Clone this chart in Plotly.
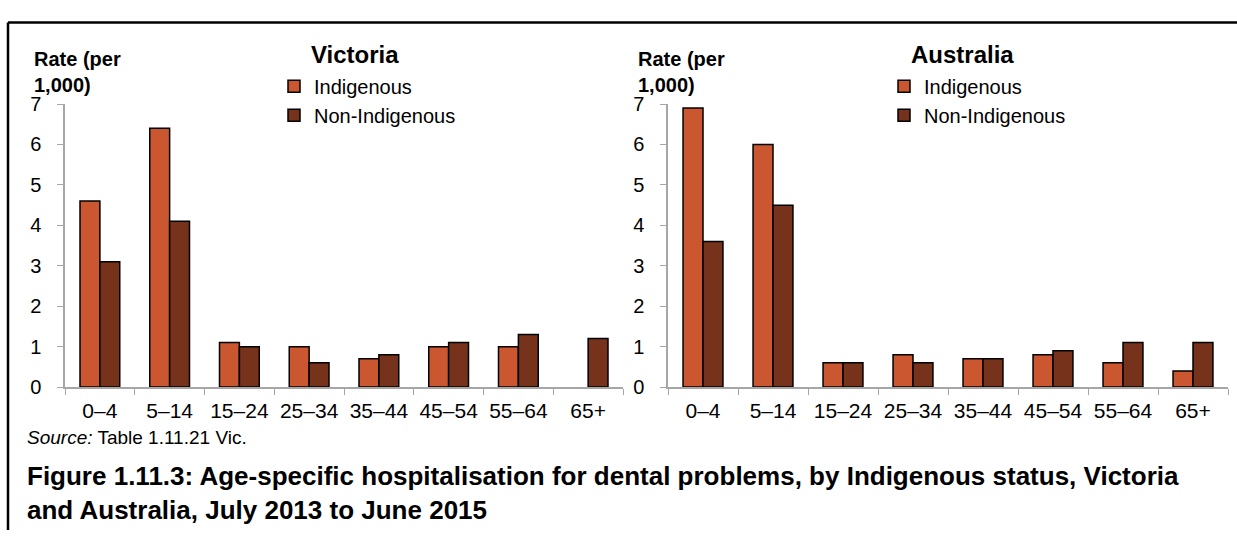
import plotly.graph_objects as go

W, H = 1237, 541

ages = ["0–4", "5–14", "15–24", "25–34", "35–44", "45–54", "55–64", "65+"]

vic_indig = [4.6, 6.4, 1.1, 1.0, 0.7, 1.0, 1.0, None]
vic_non = [3.1, 4.1, 1.0, 0.6, 0.8, 1.1, 1.3, 1.2]
aus_indig = [6.9, 6.0, 0.6, 0.8, 0.7, 0.8, 0.6, 0.4]
aus_non = [3.6, 4.5, 0.6, 0.6, 0.7, 0.9, 1.1, 1.1]

y_ticks = [0, 1, 2, 3, 4, 5, 6, 7]

c_indig = "#CA5730"
c_non = "#76321B"
font = "Liberation Sans, Arial, sans-serif"


# pixel -> paper fraction
def px_x(v):
    return v / W


def px_y(v):
    return 1 - v / H


fig = go.Figure()

# Victoria
fig.add_trace(go.Bar(x=ages, y=vic_indig, name="Indigenous", marker_color=c_indig,
                     marker_line=dict(color="black", width=1.5),
                     xaxis="x", yaxis="y", legend="legend"))
fig.add_trace(go.Bar(x=ages, y=vic_non, name="Non-Indigenous", marker_color=c_non,
                     marker_line=dict(color="black", width=1.5),
                     xaxis="x", yaxis="y", legend="legend"))
# Australia
fig.add_trace(go.Bar(x=ages, y=aus_indig, name="Indigenous", marker_color=c_indig,
                     marker_line=dict(color="black", width=1.5),
                     xaxis="x2", yaxis="y2", legend="legend2"))
fig.add_trace(go.Bar(x=ages, y=aus_non, name="Non-Indigenous", marker_color=c_non,
                     marker_line=dict(color="black", width=1.5),
                     xaxis="x2", yaxis="y2", legend="legend2"))

xax = dict(type="category", showline=True, linecolor="#A6A6A6", linewidth=1.5,
           ticks="outside", tickson="boundaries", ticklen=6, tickcolor="#A6A6A6",
           tickfont=dict(size=21, color="black", family=font), showgrid=False,
           ticklabelstandoff=4, fixedrange=True)
yax = dict(range=[0, 7], tickvals=y_ticks, showline=True, linecolor="#A6A6A6",
           linewidth=1.5, ticks="outside", ticklen=6, tickcolor="#A6A6A6",
           tickfont=dict(size=20, color="black", family=font), showgrid=False,
           zeroline=False, ticklabelstandoff=12, fixedrange=True)

y_dom = [px_y(392), px_y(97)]

fig.update_layout(
    width=W, height=H,
    margin=dict(l=0, r=0, t=0, b=0),
    paper_bgcolor="white", plot_bgcolor="white",
    font=dict(family=font, color="black"),
    barmode="group", bargap=0.43, bargroupgap=0,
    xaxis=dict(xax, domain=[px_x(65), px_x(623)], anchor="y"),
    yaxis=dict(yax, domain=y_dom, anchor="x"),
    xaxis2=dict(xax, domain=[px_x(668), px_x(1228)], anchor="y2"),
    yaxis2=dict(yax, domain=y_dom, anchor="x2"),
    legend=dict(x=px_x(274), y=px_y(58), xanchor="left", yanchor="top",
                font=dict(size=20, family=font), bgcolor="rgba(0,0,0,0)"),
    legend2=dict(x=px_x(884), y=px_y(58), xanchor="left", yanchor="top",
                 font=dict(size=20, family=font), bgcolor="rgba(0,0,0,0)"),
)

# outer frame: only left and top edges show, the rest is cut off in the source
fig.add_shape(type="line", xref="paper", yref="paper",
              x0=px_x(8), x1=px_x(8), y0=0, y1=px_y(12),
              line=dict(color="black", width=2.5), layer="above")
fig.add_shape(type="line", xref="paper", yref="paper",
              x0=px_x(8), x1=1, y0=px_y(12), y1=px_y(12),
              line=dict(color="black", width=2.5), layer="above")

ann = []
# chart titles
ann.append(dict(text="<b>Victoria</b>", x=px_x(355), y=px_y(45), font=dict(size=24)))
ann.append(dict(text="<b>Australia</b>", x=px_x(962), y=px_y(45), font=dict(size=24)))
# y axis titles
for xl in (32, 636):
    ann.append(dict(text="<b>Rate (per<br>1,000)</b>", x=px_x(xl), y=px_y(36),
                    xanchor="left", yanchor="top", align="left", font=dict(size=20)))
# source and caption
ann.append(dict(text="<i>Source:</i> Table 1.11.21 Vic.", x=px_x(25), y=px_y(445),
                xanchor="left", font=dict(size=19)))
ann.append(dict(text="<b>Figure 1.11.3: Age-specific hospitalisation for dental problems, "
                     "by Indigenous status, Victoria<br>and Australia, July 2013 to June 2015</b>",
                x=px_x(25), y=px_y(467), xanchor="left", yanchor="top", align="left",
                font=dict(size=26)))
for a in ann:
    a.setdefault("xanchor", "center")
    a.setdefault("yanchor", "middle")
    a.update(xref="paper", yref="paper", showarrow=False)
    a["font"].update(family=font, color="black")
fig.update_layout(annotations=ann)

fig.write_html("out.html", config={"displayModeBar": False},
               post_script="document.body.style.margin='0';")
